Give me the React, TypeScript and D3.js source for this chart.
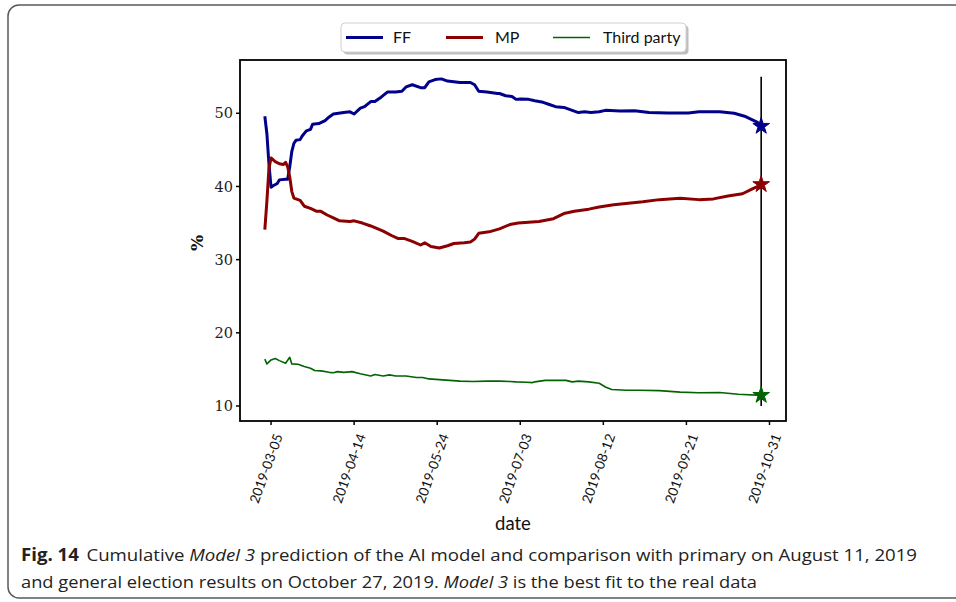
import React from "react";
import * as d3 from "d3";

// Cumulative daily vote-share predictions (percent) for each party
const ffSeries: [string, number][] = [
  ["2019-03-02", 49.6], ["2019-03-03", 47.2], ["2019-03-04", 43.0], ["2019-03-05", 39.9],
  ["2019-03-06", 40.1], ["2019-03-08", 40.4], ["2019-03-09", 40.9], ["2019-03-12", 41.0],
  ["2019-03-13", 41.0], ["2019-03-14", 42.7], ["2019-03-15", 44.8], ["2019-03-16", 45.9],
  ["2019-03-17", 46.3], ["2019-03-19", 46.4], ["2019-03-20", 46.9], ["2019-03-22", 47.6],
  ["2019-03-24", 47.8], ["2019-03-25", 48.5], ["2019-03-28", 48.6], ["2019-03-31", 49.0],
  ["2019-04-02", 49.5], ["2019-04-04", 49.9], ["2019-04-09", 50.1], ["2019-04-12", 50.2],
  ["2019-04-14", 49.9], ["2019-04-17", 50.7], ["2019-04-19", 50.9], ["2019-04-22", 51.6],
  ["2019-04-24", 51.6], ["2019-04-27", 52.2], ["2019-04-30", 52.9], ["2019-05-04", 52.9],
  ["2019-05-07", 53.0], ["2019-05-09", 53.6], ["2019-05-12", 53.9], ["2019-05-16", 53.5],
  ["2019-05-18", 53.5], ["2019-05-20", 54.3], ["2019-05-23", 54.6], ["2019-05-26", 54.7],
  ["2019-05-29", 54.4], ["2019-06-01", 54.3], ["2019-06-04", 54.2], ["2019-06-09", 54.2],
  ["2019-06-11", 53.9], ["2019-06-13", 53.0], ["2019-06-17", 52.9], ["2019-06-22", 52.7],
  ["2019-06-23", 52.7], ["2019-06-26", 52.4], ["2019-06-29", 52.3], ["2019-07-01", 51.9],
  ["2019-07-03", 51.95], ["2019-07-07", 51.9], ["2019-07-10", 51.7], ["2019-07-14", 51.5],
  ["2019-07-17", 51.2], ["2019-07-20", 50.9], ["2019-07-24", 50.8], ["2019-07-27", 50.5],
  ["2019-07-31", 50.1], ["2019-08-03", 50.2], ["2019-08-06", 50.1], ["2019-08-10", 50.2],
  ["2019-08-13", 50.4], ["2019-08-20", 50.3], ["2019-08-27", 50.35], ["2019-09-03", 50.1],
  ["2019-09-12", 50.05], ["2019-09-22", 50.05], ["2019-09-27", 50.2], ["2019-10-07", 50.2],
  ["2019-10-14", 50.0], ["2019-10-19", 49.6], ["2019-10-22", 49.2], ["2019-10-25", 48.8],
  ["2019-10-27", 48.3],
];

const mpSeries: [string, number][] = [
  ["2019-03-02", 34.1], ["2019-03-03", 38.0], ["2019-03-04", 42.5], ["2019-03-05", 43.9],
  ["2019-03-07", 43.4], ["2019-03-09", 43.1], ["2019-03-11", 43.0], ["2019-03-12", 43.3],
  ["2019-03-13", 42.7], ["2019-03-14", 41.3], ["2019-03-15", 39.3], ["2019-03-16", 38.4],
  ["2019-03-19", 38.1], ["2019-03-21", 37.3], ["2019-03-24", 37.0], ["2019-03-27", 36.6],
  ["2019-03-29", 36.6], ["2019-04-01", 36.1], ["2019-04-04", 35.7], ["2019-04-07", 35.3],
  ["2019-04-12", 35.2], ["2019-04-14", 35.3], ["2019-04-18", 35.0], ["2019-04-22", 34.6],
  ["2019-04-28", 33.9], ["2019-05-02", 33.3], ["2019-05-05", 32.9], ["2019-05-08", 32.9],
  ["2019-05-12", 32.5], ["2019-05-16", 32.0], ["2019-05-18", 32.3], ["2019-05-21", 31.8],
  ["2019-05-25", 31.6], ["2019-05-29", 31.9], ["2019-06-01", 32.2], ["2019-06-06", 32.3],
  ["2019-06-09", 32.4], ["2019-06-11", 32.8], ["2019-06-13", 33.6], ["2019-06-18", 33.8],
  ["2019-06-23", 34.2], ["2019-06-28", 34.8], ["2019-07-02", 35.0], ["2019-07-12", 35.2],
  ["2019-07-19", 35.6], ["2019-07-24", 36.3], ["2019-07-29", 36.6], ["2019-08-05", 36.9],
  ["2019-08-10", 37.2], ["2019-08-17", 37.5], ["2019-08-24", 37.7], ["2019-08-31", 37.9],
  ["2019-09-08", 38.2], ["2019-09-18", 38.4], ["2019-09-27", 38.2], ["2019-10-04", 38.3],
  ["2019-10-11", 38.7], ["2019-10-18", 39.0], ["2019-10-23", 39.7], ["2019-10-27", 40.2],
];

const thirdSeries: [string, number][] = [
  ["2019-03-02", 16.4], ["2019-03-03", 15.75], ["2019-03-05", 16.3], ["2019-03-07", 16.5],
  ["2019-03-09", 16.2], ["2019-03-12", 15.85], ["2019-03-14", 16.65], ["2019-03-15", 15.75],
  ["2019-03-18", 15.7], ["2019-03-21", 15.4], ["2019-03-24", 15.15], ["2019-03-26", 14.85],
  ["2019-03-29", 14.8], ["2019-04-02", 14.6], ["2019-04-04", 14.55], ["2019-04-06", 14.7],
  ["2019-04-09", 14.6], ["2019-04-13", 14.7], ["2019-04-17", 14.4], ["2019-04-22", 14.1],
  ["2019-04-24", 14.3], ["2019-04-28", 14.1], ["2019-05-01", 14.25], ["2019-05-04", 14.1],
  ["2019-05-09", 14.1], ["2019-05-14", 13.9], ["2019-05-17", 13.9], ["2019-05-20", 13.7],
  ["2019-05-25", 13.6], ["2019-05-30", 13.5], ["2019-06-04", 13.4], ["2019-06-10", 13.35],
  ["2019-06-17", 13.4], ["2019-06-23", 13.4], ["2019-06-28", 13.35], ["2019-07-01", 13.3],
  ["2019-07-06", 13.25], ["2019-07-09", 13.2], ["2019-07-10", 13.3], ["2019-07-15", 13.5],
  ["2019-07-20", 13.5], ["2019-07-25", 13.5], ["2019-07-28", 13.3], ["2019-07-31", 13.4],
  ["2019-08-05", 13.3], ["2019-08-10", 13.1], ["2019-08-13", 12.6], ["2019-08-16", 12.25],
  ["2019-08-23", 12.15], ["2019-08-29", 12.15], ["2019-09-08", 12.1], ["2019-09-18", 11.9],
  ["2019-09-27", 11.8], ["2019-10-07", 11.85], ["2019-10-16", 11.6], ["2019-10-27", 11.45],
];

// General election day and official results (FF, MP, third party)
const electionDate = "2019-10-27";
const electionResults = [48.24, 40.28, 11.48];
const seriesLabels = ["FF", "MP", "Third party"];
const seriesColors = ["#00008b", "#8b0000", "#006400"];
const seriesWidths = [3, 3, 1.6];

const xTickLabels = [
  "2019-03-05", "2019-04-14", "2019-05-24", "2019-07-03",
  "2019-08-12", "2019-09-21", "2019-10-31",
];
const yTicks = [10, 20, 30, 40, 50];
const vlineRange = [10, 55];

const W = 956;
const H = 602;
const plot = { left: 240, right: 786, top: 60, bottom: 421 };

const parse = d3.timeParse("%Y-%m-%d");

export default function App() {
  const allSeries = [ffSeries, mpSeries, thirdSeries];
  const allDates = allSeries.flat().map((d) => parse(d[0]) as Date);
  const [dMin, dMax] = d3.extent(allDates) as [Date, Date];
  const pad = (dMax.getTime() - dMin.getTime()) * 0.05;

  const x = d3
    .scaleTime()
    .domain([new Date(dMin.getTime() - pad), new Date(dMax.getTime() + pad)])
    .range([plot.left, plot.right]);
  const y = d3.scaleLinear().domain([7.95, 57.28]).range([plot.bottom, plot.top]);

  const line = d3
    .line<[string, number]>()
    .x((d) => x(parse(d[0]) as Date))
    .y((d) => y(d[1]));

  const star = d3.symbol().type(d3.symbolStar).size(86)();
  const ex = x(parse(electionDate) as Date);

  const sans = "Lato, 'Open Sans', sans-serif";
  const captionFont = "'Open Sans', Lato, sans-serif";
  const serif = "'DejaVu Serif', serif";

  const legendX = 341;
  const legendY = 23;
  const legendItems = [
    { x0: 346, tx: 393 },
    { x0: 446, tx: 495 },
    { x0: 553, tx: 603 },
  ];

  return (
    <svg
      width={W}
      height={H}
      viewBox={`0 0 ${W} ${H}`}
      style={{ position: "absolute", left: 0, top: 0, background: "#fff" }}
    >
      {/* figure frame */}
      <rect x={8} y={5} width={970} height={593} rx={11} fill="none" stroke="#5a5a5a" strokeWidth={1.5} />

      {/* vertical election-day marker */}
      <line x1={ex} x2={ex} y1={y(vlineRange[0])} y2={y(vlineRange[1])} stroke="#000" strokeWidth={1.6} />

      {/* series lines */}
      {allSeries.map((s, i) => (
        <path
          key={seriesLabels[i]}
          d={line(s) || ""}
          fill="none"
          stroke={seriesColors[i]}
          strokeWidth={seriesWidths[i]}
          strokeLinejoin="round"
          strokeLinecap="butt"
        />
      ))}

      {/* election result markers */}
      {electionResults.map((v, i) => (
        <path
          key={"star" + i}
          d={star || ""}
          transform={`translate(${ex},${y(v)})`}
          fill={seriesColors[i]}
          stroke={seriesColors[i]}
          strokeWidth={1}
        />
      ))}

      {/* axes frame */}
      <rect
        x={plot.left}
        y={plot.top}
        width={plot.right - plot.left}
        height={plot.bottom - plot.top}
        fill="none"
        stroke="#000"
        strokeWidth={1.8}
      />

      {/* y axis */}
      {yTicks.map((t) => (
        <g key={"y" + t}>
          <line x1={plot.left - 4} x2={plot.left} y1={y(t)} y2={y(t)} stroke="#000" strokeWidth={1.5} />
          <text
            x={plot.left - 7}
            y={y(t)}
            dy="0.36em"
            textAnchor="end"
            fontFamily={serif}
            fontSize={14.5}
            fill="#222"
          >
            {t}
          </text>
        </g>
      ))}
      <text
        transform={`translate(203,243) rotate(-90)`}
        textAnchor="middle"
        fontFamily={serif}
        fontSize={17}
        fontWeight="bold"
        fill="#111"
      >
        %
      </text>

      {/* x axis */}
      {xTickLabels.map((lab) => {
        const tx = x(parse(lab) as Date);
        return (
          <g key={lab}>
            <line x1={tx} x2={tx} y1={plot.bottom} y2={plot.bottom + 4} stroke="#000" strokeWidth={1.5} />
            <text
              transform={`translate(${tx + 12},${plot.bottom + 15}) rotate(-70)`}
              textAnchor="end"
              fontFamily={sans}
              fontSize={13.5}
              fill="#111"
            >
              {lab}
            </text>
          </g>
        );
      })}
      <text
        x={(plot.left + plot.right) / 2}
        y={530}
        textAnchor="middle"
        fontFamily={sans}
        fontSize={18.5}
        fill="#111"
      >
        date
      </text>

      {/* legend */}
      <rect x={legendX + 2.5} y={legendY + 2.5} width={345} height={29} rx={4} fill="#888" opacity={0.55} />
      <rect x={legendX} y={legendY} width={345} height={29} rx={4} fill="#fff" stroke="#d0d0d0" strokeWidth={1} />
      {legendItems.map((it, i) => (
        <g key={"lg" + i}>
          <line
            x1={it.x0}
            x2={it.x0 + 37}
            y1={legendY + 14.5}
            y2={legendY + 14.5}
            stroke={seriesColors[i]}
            strokeWidth={seriesWidths[i]}
          />
          <text x={it.tx} y={legendY + 20} fontFamily={sans} fontSize={16} fill="#111">
            {seriesLabels[i]}
          </text>
        </g>
      ))}

      {/* caption */}
      <text x={21} y={561} fontFamily={captionFont} fontSize={17} fill="#222" textLength={896} lengthAdjust="spacingAndGlyphs">
        <tspan fontWeight="bold">Fig. 14</tspan>
        <tspan dx={7}>Cumulative </tspan>
        <tspan fontStyle="italic">Model 3</tspan>
        <tspan> prediction of the AI model and comparison with primary on August 11, 2019</tspan>
      </text>
      <text x={21} y={588} fontFamily={captionFont} fontSize={17} fill="#222" textLength={736} lengthAdjust="spacingAndGlyphs">
        <tspan>and general election results on October 27, 2019. </tspan>
        <tspan fontStyle="italic">Model 3</tspan>
        <tspan> is the best fit to the real data</tspan>
      </text>
    </svg>
  );
}
